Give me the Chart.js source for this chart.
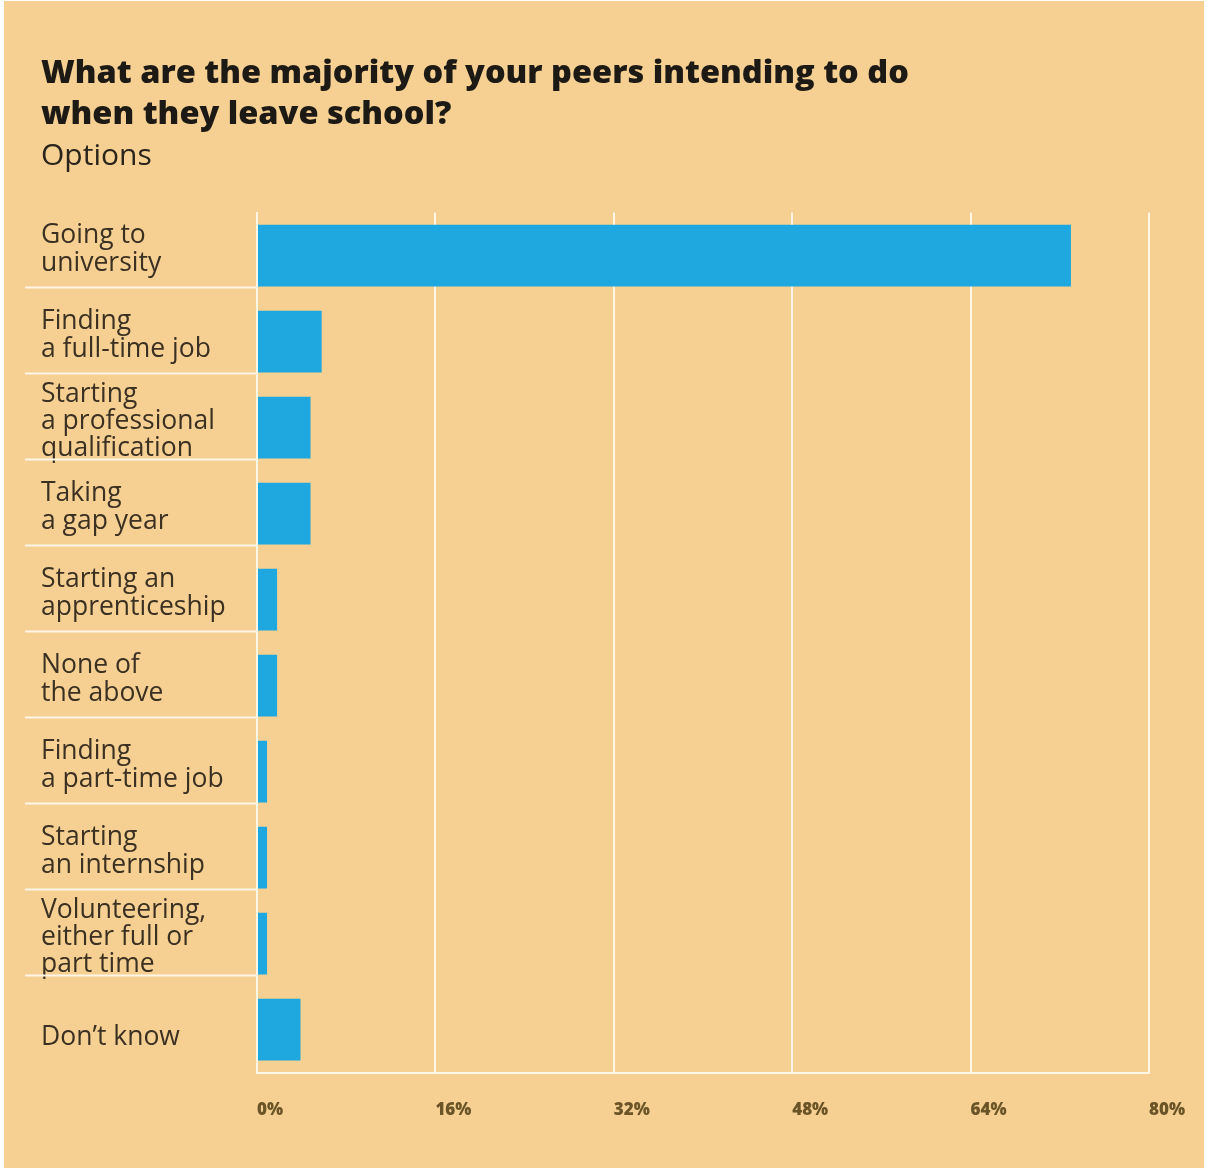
<!DOCTYPE html>
<html>
<head>
<meta charset="utf-8">
<script src="https://cdn.jsdelivr.net/npm/chart.js@4/dist/chart.umd.min.js"></script>
<style>
  html, body { margin:0; padding:0; background:#fff; }
  #panel { position:absolute; left:4px; top:1px; width:1200px; height:1167px; background:#F5D092; }
  #wrap { position:absolute; left:0; top:0; width:1207px; height:1171px; }
</style>
</head>
<body>
<div id="panel"></div>
<div id="wrap"><canvas id="chart"></canvas></div>
<script>
// ---------- data ----------
const categories = [
  ['Going to', 'university'],
  ['Finding', 'a full-time job'],
  ['Starting', 'a professional', 'qualification'],
  ['Taking', 'a gap year'],
  ['Starting an', 'apprenticeship'],
  ['None of', 'the above'],
  ['Finding', 'a part-time job'],
  ['Starting', 'an internship'],
  ['Volunteering,', 'either full or', 'part time'],
  ['', 'Don\u2019t know']          // blank first line pushes it down a bit
];
const shares = [73.0, 5.8, 4.8, 4.8, 1.8, 1.8, 0.9, 0.9, 0.9, 3.9];
const xTicks = [0, 16, 32, 48, 64, 80];

const titleLines = ['What are the majority of your peers intending to do', 'when they leave school?'];
const subtitleText = 'Options';

const BAR = '#1EA8DF', LINE = '#FFF6E6';

// thin separators under each row label (none after the last row)
const rowSeparators = {
  id: 'rowSeparators',
  afterDatasetsDraw(chart){
    const meta = chart.getDatasetMeta(0), ctx = chart.ctx, left = chart.chartArea.left;
    ctx.save();
    ctx.strokeStyle = LINE; ctx.lineWidth = 2;
    meta.data.forEach((bar, i)=>{
      if (i === meta.data.length - 1) return;
      const y = Math.round(bar.y + bar.height / 2) + 0.5;
      ctx.beginPath(); ctx.moveTo(25, y); ctx.lineTo(left, y); ctx.stroke();
    });
    ctx.restore();
  }
};

new Chart(document.getElementById('chart'), {
  type: 'bar',
  data: {
    labels: categories,
    datasets: [{ data: shares, backgroundColor: BAR, borderWidth: 0, barPercentage: 0.72, categoryPercentage: 1 }]
  },
  options: {
    indexAxis: 'y',
    responsive: true,
    maintainAspectRatio: false,
    animation: false,
    layout: { padding: { left: 41, right: 58, top: 0, bottom: 24 } },
    plugins: {
      legend: { display: false },
      tooltip: { enabled: false },
      title: {
        display: true, text: titleLines, align: 'start', color: '#1d1a15',
        font: { family: 'Open Sans', size: 32.5, weight: '800', lineHeight: 1.24 },
        padding: { top: 54, bottom: 2 }
      },
      subtitle: {
        display: true, text: subtitleText, align: 'start', color: '#2a241b',
        font: { family: 'Open Sans', size: 30, weight: '400', lineHeight: 1.2 },
        padding: { top: 2, bottom: 38 }
      }
    },
    scales: {
      x: {
        min: 0, max: 80,
        afterBuildTicks: s => { s.ticks = xTicks.map(v => ({ value: v })); },
        afterFit: s => { s.paddingRight = 0; },   // last label may hang into the right margin
        grid: { color: LINE, lineWidth: 2, drawTicks: false },
        border: { color: LINE, width: 2 },
        ticks: {
          align: 'start', padding: 27, color: '#6b5428',
          font: { family: 'Open Sans', size: 17, weight: '800' },
          callback: v => v + '%'
        }
      },
      y: {
        grid: { display: false, drawTicks: false },
        border: { color: LINE, width: 2 },
        afterFit: s => { s.width = 216; },
        ticks: {
          autoSkip: false,
          crossAlign: 'far', padding: 0, labelOffset: -6, color: '#3b3022',
          font: { family: 'Open Sans', size: 26.5, weight: '400', lineHeight: 1.03 }
        }
      }
    }
  },
  plugins: [rowSeparators]
});
</script>
</body>
</html>
